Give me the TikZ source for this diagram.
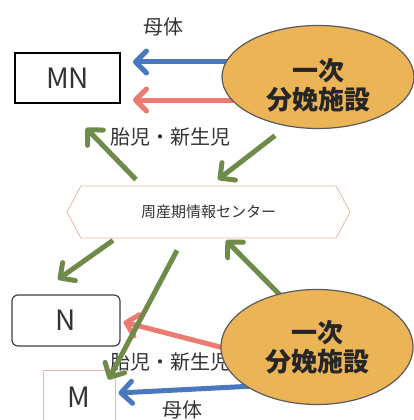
\documentclass[tikz,border=0pt]{standalone}
\usepackage{fontspec}
\setmainfont{Noto Sans CJK JP}
\usetikzlibrary{arrows.meta,shapes.geometric,shapes.symbols,calc}
\pgfdeclarelayer{fg}
\pgfsetlayers{main,fg}
\definecolor{ellfill}{HTML}{EBB457}
\definecolor{ellline}{HTML}{5A5A5A}
\definecolor{arrblue}{HTML}{4A78BE}
\definecolor{arrred}{HTML}{EC7B72}
\definecolor{arrgreen}{HTML}{6E8B4A}
\definecolor{hexline}{HTML}{E5B9A5}
\definecolor{txtgray}{HTML}{333333}
\tikzset{
  fac/.style={ellipse, fill=ellfill, draw=ellline, line width=1.2pt, inner sep=0pt},
  factxt/.style={font=\fontsize{26}{29}\selectfont\bfseries, text=black!85, align=center, inner sep=0pt},
  lbl/.style={font=\fontsize{20}{22}\selectfont, text=txtgray, inner sep=0pt},
  boxtxt/.style={font=\fontsize{28}{30}\selectfont, text=txtgray},
  arr/.style={line width=5pt, -{Straight Barb[length=11pt,width=22pt,round]}},
  barr/.style={arr, draw=arrblue},
  rarr/.style={arr, draw=arrred},
  garr/.style={arr, draw=arrgreen},
}
\begin{document}
\begin{tikzpicture}[x=1pt,y=1pt]
\clip (0,0) rectangle (414,-420);
\fill[white] (0,0) rectangle (414,-420);
% boxes
\node[boxtxt, draw=black, line width=2pt, fill=white, minimum width=105pt, minimum height=50pt] (MN) at (67.5,-78) {MN};
\node[boxtxt, draw=black!75, line width=1.2pt, rounded corners=6pt, fill=white, minimum width=108pt, minimum height=51pt] (N) at (66,-320.5) {N};
\node[boxtxt, draw=arrred!60, line width=1pt, fill=white, minimum width=72pt, minimum height=54pt] (M) at (79,-397) {M};
% hexagon
\node[signal, signal to=east and west, signal pointer angle=124, draw=hexline, line width=0.8pt, fill=white, minimum width=283pt, minimum height=52pt, font=\fontsize{15}{17}\selectfont, text=txtgray] (h) at (208.5,-212) {周産期情報センター};
% labels
\node[lbl] (lm1) at (163,-27) {母体};
\node[lbl] (lf1) at (170,-137) {胎児・新生児};
\node[lbl] (lf2) at (170,-362) {胎児・新生児};
\node[lbl] (lm2) at (182,-410) {母体};
% ellipses on foreground
\begin{pgfonlayer}{fg}
\node[fac, minimum width=192pt, minimum height=103pt] (e1) at (318,-77) {};
\node[factxt] (e1t) at (318,-85) {一次\\分娩施設};
\node[fac, minimum width=192pt, minimum height=115pt] (e2) at (317,-347) {};
\node[factxt] (e2t) at (317,-347) {一次\\分娩施設};
\end{pgfonlayer}
% arrows
\draw[barr] ($(e1.west)+(12,15)$) -- ($(MN.east)+(12,16)$);
\draw[rarr] ($(e1.west)+(12,-23)$) -- ($(MN.east)+(12,-22)$);
\draw[garr] ($(h.north)+(-72.5,6)$) -- ($(MN.south east)+(-35,-24)$);
\draw[garr] ($(e1.south)+(-43,-6.5)$) -- ($(h.north)+(9.5,6)$);
\draw[rarr] ($(e2.west)+(19,-5)$) -- ($(N.east)+(3,-1.5)$);
\draw[barr] ($(e2.west)+(34,-39)$) -- ($(M.east)+(3,4)$);
\draw[garr] ($(h.south)+(-95.5,-2)$) -- ($(N.north)+(-8,15)$);
\draw[garr] ($(h.south)+(-31.5,-12)$) -- ($(M.north east)+(-7,-10)$);
\draw[garr] ($(e2.north)+(-37,-6)$) -- ($(h.south)+(17.5,-2)$);
\end{tikzpicture}
\end{document}
